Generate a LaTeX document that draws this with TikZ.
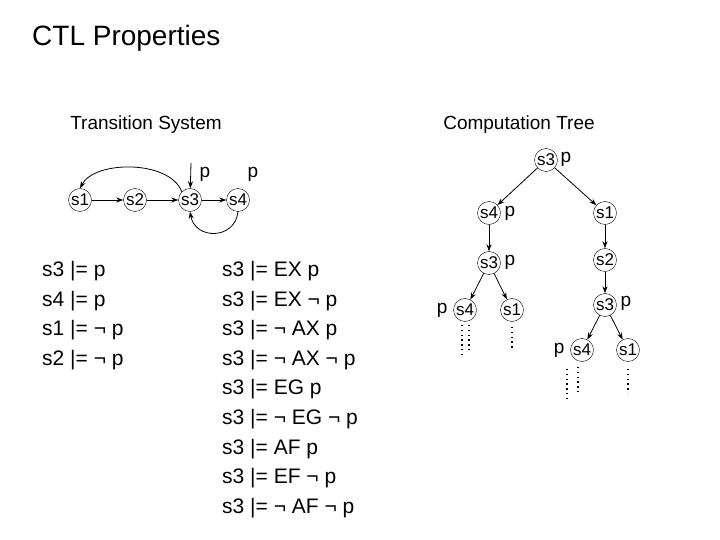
\documentclass[tikz,border=0pt]{standalone}
\usepackage{fontspec}
\setmainfont{Liberation Sans}
\usetikzlibrary{arrows.meta}
\begin{document}
\begin{tikzpicture}[x=1pt,y=-1pt,
  st/.style={circle,draw,inner sep=0pt,minimum size=23pt,font=\fontsize{17}{17}\selectfont},
  lb/.style={font=\fontsize{19}{19}\selectfont},
  big/.style={font=\fontsize{21}{29.6}\selectfont,align=left,anchor=north west},
  ar/.style={-{Stealth[length=7pt,width=5pt]},thick},
  dt/.style={line width=1.3pt,dash pattern=on 1.3pt off 3.5pt}]
\useasboundingbox (0,0) rectangle (720,540);
\node[anchor=west,font=\fontsize{28}{28}\selectfont,inner sep=0pt] (title) at (32,38) {CTL Properties};
\node[font=\fontsize{19}{19}\selectfont] (ts) at (146,125) {Transition System};
\node[font=\fontsize{19}{19}\selectfont] (ct) at (519,125) {Computation Tree};
% transition system
\node[st] (a1) at (80,200) {s1};
\node[st] (a2) at (135,200) {s2};
\node[st] (a3) at (190,200) {s3};
\node[st] (a4) at (238,200) {s4};
\node[lb] (p3) at (205,174) {p};
\node[lb] (p4) at (253,174) {p};
\coordinate (in) at (191,163);
\draw[ar] (in) -- (a3);
\draw[ar] (a1) -- (a2);
\draw[ar] (a2) -- (a3);
\draw[ar] (a3) -- (a4);
\draw[ar] (a3.north west) .. controls (170,160) and (95,160) .. (a1.north);
\draw[ar] (a4.south) .. controls (235,240) and (195,240) .. (a3.south);
\node[big,inner sep=0pt] (l1) at (42,261) {s3 |= p\\ s4 |= p\\ s1 |= ¬ p\\ s2 |= ¬ p};
\node[big,inner sep=0pt] (l2) at (222,261) {s3 |= EX p\\ s3 |= EX ¬ p\\ s3 |= ¬ AX p\\ s3 |= ¬ AX ¬ p\\ s3 |= EG p\\ s3 |= ¬ EG ¬ p\\ s3 |= AF p\\ s3 |= EF ¬ p\\ s3 |= ¬ AF ¬ p};
% tree
\node[st] (t0) at (546,160) {s3};
\node[st] (t1) at (489,213) {s4};
\node[st] (t2) at (605,213) {s1};
\node[st] (t3) at (489,263) {s3};
\node[st] (t4) at (605,260) {s2};
\node[st] (t5) at (465,310) {s4};
\node[st] (t6) at (512,310) {s1};
\node[st] (t7) at (605,305) {s3};
\node[st] (t8) at (582,350) {s4};
\node[st] (t9) at (628,350) {s1};
\node[lb,anchor=west] (q0) at (557,159) {p};
\node[lb,anchor=west] (q1) at (501,213) {p};
\node[lb,anchor=west] (q3) at (501,262) {p};
\node[lb,anchor=east] (q5) at (451,310) {p};
\node[lb,anchor=west] (q7) at (617,303) {p};
\node[lb,anchor=east] (q8) at (568,350) {p};
\draw[ar] (t0) -- (t1);
\draw[ar] (t0) -- (t2);
\draw[ar] (t1) -- (t3);
\draw[ar] (t2) -- (t4);
\draw[ar] (t3) -- (t5);
\draw[ar] (t3) -- (t6);
\draw[ar] (t4) -- (t7);
\draw[ar] (t7) -- (t8);
\draw[ar] (t7) -- (t9);
\draw[dt] (462,325) -- (462,355);
\draw[dt] (469,325) -- (469,351);
\draw[dt] (512,327) -- (512,349);
\draw[dt] (567,369) -- (567,399);
\draw[dt] (578,367) -- (578,393);
\draw[dt] (628,369) -- (628,393);
\end{tikzpicture}
\end{document}
